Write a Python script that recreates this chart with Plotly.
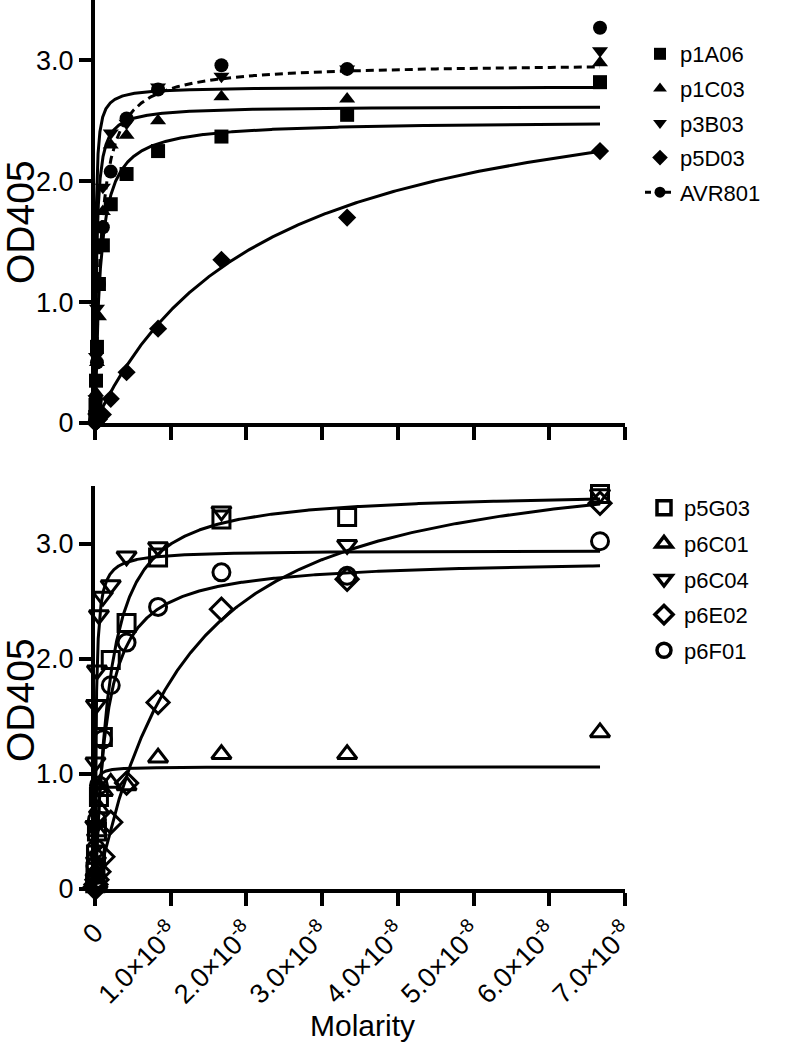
import numpy as np
import plotly.graph_objects as go

# ---------------- data ----------------
conc = [6.67e-8, 3.33e-8, 1.67e-8, 8.33e-9, 4.17e-9, 2.08e-9, 1.04e-9,
        5.2e-10, 2.6e-10, 1.3e-10, 6.5e-11, 3.3e-11]

top_names = ["p1A06", "p1C03", "p3B03", "p5D03", "AVR801"]
p1A06 = [2.82, 2.55, 2.37, 2.25, 2.06, 1.81, 1.47, 1.15, 0.63, 0.35, 0.15, 0.05]
p1C03 = [2.98, 2.68, 2.70, 2.50, 2.38, 2.30, 1.75, 0.88, 0.50, 0.25, 0.10, 0.03]
p3B03 = [3.08, 2.93, 2.87, 2.78, 2.48, 2.40, 1.95, 1.45, 0.95, 0.55, 0.20, 0.05]
p5D03 = [2.25, 1.70, 1.35, 0.78, 0.42, 0.20, 0.07, 0.03, 0.02, 0.01, 0.005, 0.0]
AVR801 = [3.27, 2.93, 2.96, 2.76, 2.52, 2.08, 1.62, 1.15, 0.50, 0.20, 0.08, 0.02]
top_values = [p1A06, p1C03, p3B03, p5D03, AVR801]
# fitted binding parameters (Bmax, Kd, Hill slope)
top_bmax = [2.50, 2.62, 2.78, 2.99, 2.98]
top_kd = [0.68e-9, 0.20e-9, 0.10e-9, 22.1e-9, 0.77e-9]
top_hill = [1.0, 1.0, 1.0, 1.0, 1.0]

bot_names = ["p5G03", "p6C01", "p6C04", "p6E02", "p6F01"]
p5G03 = [3.43, 3.23, 3.21, 2.88, 2.31, 1.99, 1.32, 0.80, 0.50, 0.30, 0.15, 0.05]
p6C01 = [1.36, 1.17, 1.17, 1.14, 0.90, 0.92, 0.85, 0.70, 0.50, 0.30, 0.15, 0.05]
p6C04 = [3.43, 2.99, 3.28, 2.97, 2.89, 2.64, 2.54, 2.38, 1.90, 1.60, 1.10, 0.55]
p6E02 = [3.35, 2.69, 2.43, 1.62, 0.92, 0.58, 0.28, 0.15, 0.08, 0.04, 0.02, 0.01]
p6F01 = [3.02, 2.72, 2.75, 2.45, 2.14, 1.77, 1.30, 0.90, 0.60, 0.35, 0.20, 0.08]
bot_values = [p5G03, p6C01, p6C04, p6E02, p6F01]
bot_bmax = [3.45, 1.06, 2.94, 3.80, 2.87]
bot_kd = [1.8e-9, 0.05e-9, 0.15e-9, 10.9e-9, 1.5e-9]
bot_hill = [1.1, 1.0, 1.0, 1.1, 1.0]

x_tickvals = [0, 1e-8, 2e-8, 3e-8, 4e-8, 5e-8, 6e-8, 7e-8]
x_ticktext = ["0"] + ["%d.0×10<sup>-8</sup>" % i for i in range(1, 8)]
y_tickvals = [0, 1, 2, 3]
y_ticktext = ["0", "1.0", "2.0", "3.0"]

top_symbols = ["square", "triangle-up", "triangle-down", "diamond", "circle"]
bot_symbols = ["square-open", "triangle-up-open", "triangle-down-open",
               "diamond-open", "circle-open"]

FONT = "Liberation Sans, Arial, sans-serif"

xfit = np.concatenate([[0.0], np.geomspace(1e-12, max(conc), 1500)])


def curve(b, k, n):
    return b * xfit ** n / (k ** n + xfit ** n)


fig = go.Figure()

# ---------------- top panel ----------------
for i, name in enumerate(top_names):
    dash = "8px,5px" if name == "AVR801" else "solid"
    fig.add_trace(go.Scatter(
        x=xfit, y=curve(top_bmax[i], top_kd[i], top_hill[i]), mode="lines",
        line=dict(color="black", width=3, dash=dash), showlegend=False,
        hoverinfo="skip", xaxis="x", yaxis="y"))
for i, name in enumerate(top_names):
    fig.add_trace(go.Scatter(
        x=conc, y=top_values[i], mode="markers",
        marker=dict(symbol=top_symbols[i], size=14, color="black"),
        cliponaxis=False, showlegend=False, xaxis="x", yaxis="y"))
for i, name in enumerate(top_names):
    if name == "AVR801":
        fig.add_trace(go.Scatter(
            x=[None], y=[None], mode="lines+markers", name=name,
            line=dict(color="black", width=3, dash="6px,4px"),
            marker=dict(symbol="circle", size=11, color="black"),
            legend="legend", legendgroup="t%d" % i, xaxis="x", yaxis="y"))
    else:
        fig.add_trace(go.Scatter(
            x=[None], y=[None], mode="markers", name=name,
            marker=dict(symbol=top_symbols[i], size=12, color="black"),
            legend="legend", legendgroup="t%d" % i, xaxis="x", yaxis="y"))

# ---------------- bottom panel ----------------
for i, name in enumerate(bot_names):
    fig.add_trace(go.Scatter(
        x=xfit, y=curve(bot_bmax[i], bot_kd[i], bot_hill[i]), mode="lines",
        line=dict(color="black", width=3), showlegend=False,
        hoverinfo="skip", xaxis="x2", yaxis="y2"))
for i, name in enumerate(bot_names):
    fig.add_trace(go.Scatter(
        x=conc, y=bot_values[i], mode="markers",
        marker=dict(symbol=bot_symbols[i], size=17, color="black",
                    line=dict(width=3, color="black")),
        cliponaxis=False, showlegend=False, xaxis="x2", yaxis="y2"))
for i, name in enumerate(bot_names):
    fig.add_trace(go.Scatter(
        x=[None], y=[None], mode="markers", name=name,
        marker=dict(symbol=bot_symbols[i], size=14, color="black",
                    line=dict(width=3.5, color="black")),
        legend="legend2", legendgroup="b%d" % i, xaxis="x2", yaxis="y2"))

axis_common = dict(showline=True, linecolor="black", linewidth=4,
                   ticks="outside", tickwidth=4, tickcolor="black",
                   showgrid=False, zeroline=False,
                   tickfont=dict(family=FONT, size=27, color="black"))

fig.update_layout(
    width=790, height=1050,
    margin=dict(l=95, r=165, t=0, b=161),
    paper_bgcolor="white", plot_bgcolor="white",
    font=dict(family=FONT, color="black"),
    xaxis=dict(domain=[0, 1], anchor="y", range=[0, 7e-8],
               tickvals=x_tickvals, showticklabels=False, ticklen=13,
               **axis_common),
    yaxis=dict(domain=[0.5242, 1], anchor="x", range=[0, 3.5],
               tickvals=y_tickvals, ticktext=y_ticktext, ticklen=12,
               **axis_common),
    xaxis2=dict(domain=[0, 1], anchor="y2", range=[0, 7e-8],
                tickvals=x_tickvals, ticktext=x_ticktext, tickangle=-45,
                ticklen=13, **axis_common),
    yaxis2=dict(domain=[0, 0.4533], anchor="x2", range=[0, 3.5],
                tickvals=y_tickvals, ticktext=y_ticktext, ticklen=12,
                **axis_common),
    legend=dict(x=(640 - 95) / 530, xanchor="left", y=(889 - 33) / 889,
                yanchor="top", font=dict(family=FONT, size=22, color="black"),
                tracegroupgap=3, itemwidth=30, bgcolor="rgba(0,0,0,0)"),
    legend2=dict(x=(644 - 95) / 530, xanchor="left", y=(889 - 487) / 889,
                 yanchor="top", font=dict(family=FONT, size=22, color="black"),
                 tracegroupgap=4, itemwidth=30, bgcolor="rgba(0,0,0,0)"),
    annotations=[
        dict(text="OD405", xref="paper", yref="paper",
             x=(21 - 95) / 530, y=(889 - 222) / 889, xanchor="center",
             yanchor="middle", textangle=-90, showarrow=False,
             font=dict(family=FONT, size=39, color="black")),
        dict(text="OD405", xref="paper", yref="paper",
             x=(21 - 95) / 530, y=(889 - 700) / 889, xanchor="center",
             yanchor="middle", textangle=-90, showarrow=False,
             font=dict(family=FONT, size=39, color="black")),
        dict(text="Molarity", xref="paper", yref="paper",
             x=(362 - 95) / 530, y=(889 - 1025) / 889, xanchor="center",
             yanchor="middle", showarrow=False,
             font=dict(family=FONT, size=30, color="black")),
    ],
)

fig.write_html("out.html", config={"displayModeBar": False},
               post_script="document.body.style.margin='0';")
